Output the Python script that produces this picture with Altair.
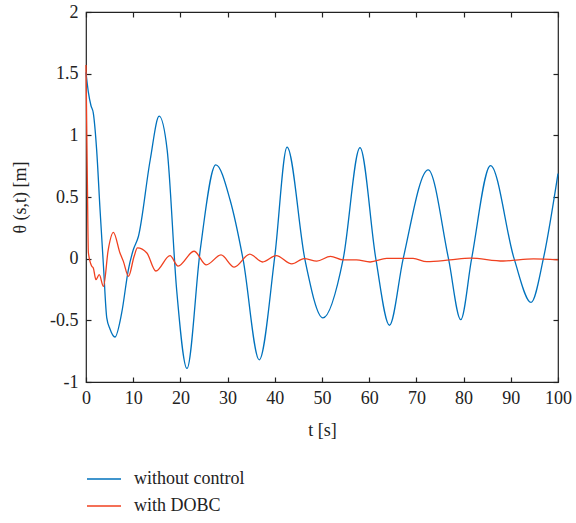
import altair as alt
import pandas as pd

# without control
t_blue = [0, 0.5, 1.06, 1.55, 2.26, 2.97, 3.7, 4.4, 5.08, 6.14, 7.56, 8.97, 10.0, 11.1, 13.6, 15.5,
          17.2, 19.2, 21.4, 24.2, 27.5, 30.5, 33.3, 36.7, 40.0, 42.6, 46.4, 50.2, 54.5, 58.05,
          61.4, 64.3, 67.2, 72.5, 76.8, 79.4, 81.7, 85.7, 90.7, 94.3, 96.9, 100]
y_blue = [1.51, 1.35, 1.24, 1.18, 0.88, 0.40, -0.06, -0.48, -0.57, -0.635, -0.44, -0.09, 0.07, 0.18, 0.80, 1.155,
          0.88, -0.25, -0.89, 0.07, 0.76, 0.48, -0.01, -0.82, 0.02, 0.905, -0.01, -0.48, 0.0, 0.90,
          0.0, -0.54, 0.0, 0.72, 0.0, -0.495, 0.0, 0.755, 0.0, -0.355, 0.0, 0.69]

# with DOBC
t_red = [0, 0.3, 0.5, 1.2, 1.55, 2.1, 2.8, 3.7, 4.7, 5.8, 7.2, 7.9, 9.0, 10.2, 10.9, 12.9, 14.8,
         17.8, 19.5, 22.9, 25.5, 28.6, 31.4, 34.7, 37.4, 40.3, 43.6, 46.2, 48.9, 51.8, 54.5,
         57.3, 60.2, 63.7, 69.3, 72.2, 77.1, 81.4, 88.4, 94.8, 100]
y_red = [1.57, 0.6, 0.05, -0.06, -0.075, -0.17, -0.13, -0.225, 0.07, 0.213, 0.046, -0.02, -0.143, 0.02, 0.087, 0.046, -0.10,
         0.024, -0.06, 0.06, -0.05, 0.03, -0.068, 0.037, -0.027, 0.025, -0.043, 0.0, -0.02, 0.019, -0.01,
         -0.01, -0.027, 0.002, 0.002, -0.024, -0.01, 0.005, -0.019, -0.002, -0.01]

series_names = ["without control", "with DOBC"]
series_colors = ["#0072BD", "#F0401F"]
x_ticks = [0, 10, 20, 30, 40, 50, 60, 70, 80, 90, 100]
y_ticks = [-1, -0.5, 0, 0.5, 1, 1.5, 2]

df = pd.concat([
    pd.DataFrame({"t": t_blue, "v": y_blue, "s": series_names[0], "o": range(len(t_blue))}),
    pd.DataFrame({"t": t_red, "v": y_red, "s": series_names[1], "o": range(len(t_red))}),
])

FONT = "Liberation Serif"
INK = "#222222"
label_expr_y = "datum.value < 0 ? '-' + format(-datum.value, '~g') : format(datum.value, '~g')"

xs = alt.Scale(domain=[0, 100], nice=False, zero=False)
ys = alt.Scale(domain=[-1, 2], nice=False, zero=False)

common = dict(labelFont=FONT, labelFontSize=18, labelColor=INK, titleFont=FONT, titleFontSize=18,
              titleColor=INK, titleFontWeight="normal", tickColor=INK, tickWidth=1.2,
              domain=False, offset=-5, tickSize=5, grid=False, labelFlush=False)

lines = alt.Chart(df).mark_line(strokeWidth=1.3, interpolate="monotone").encode(
    x=alt.X("t:Q", scale=xs, axis=alt.Axis(values=x_ticks, title="t [s]", orient="bottom",
                                           labelPadding=7, titlePadding=14, **common)),
    y=alt.Y("v:Q", scale=ys, axis=alt.Axis(values=y_ticks, title="θ (s,t) [m]", orient="left",
                                           labelPadding=8, labelExpr=label_expr_y, titlePadding=20,
                                           **common)),
    color=alt.Color("s:N", scale=alt.Scale(domain=series_names, range=series_colors),
                    legend=alt.Legend(title=None, orient="none", legendX=0, legendY=449,
                                      symbolType="stroke", symbolSize=1156, symbolStrokeWidth=1.3,
                                      labelFontSize=18, labelFont=FONT, labelColor=INK,
                                      labelOffset=12, rowPadding=-3, padding=0)),
    detail="s:N",
    order="o:Q",
)

frame_axes = alt.Chart(df).mark_point(opacity=0).encode(
    x=alt.X("t:Q", scale=xs, axis=alt.Axis(values=x_ticks, title=None, orient="top", labels=False,
                                           **common)),
    y=alt.Y("v:Q", scale=ys, axis=alt.Axis(values=y_ticks, title=None, orient="right", labels=False,
                                           **common)),
)

chart = alt.layer(lines, frame_axes).resolve_axis(x="independent", y="independent").properties(
    width=472, height=370,
    padding={"left": 86, "top": 12, "right": 18, "bottom": 141},
    autosize="none",
).configure_view(stroke=INK, strokeWidth=1.2)

chart.save("out.html", embed_options={"renderer": "svg", "actions": False})
